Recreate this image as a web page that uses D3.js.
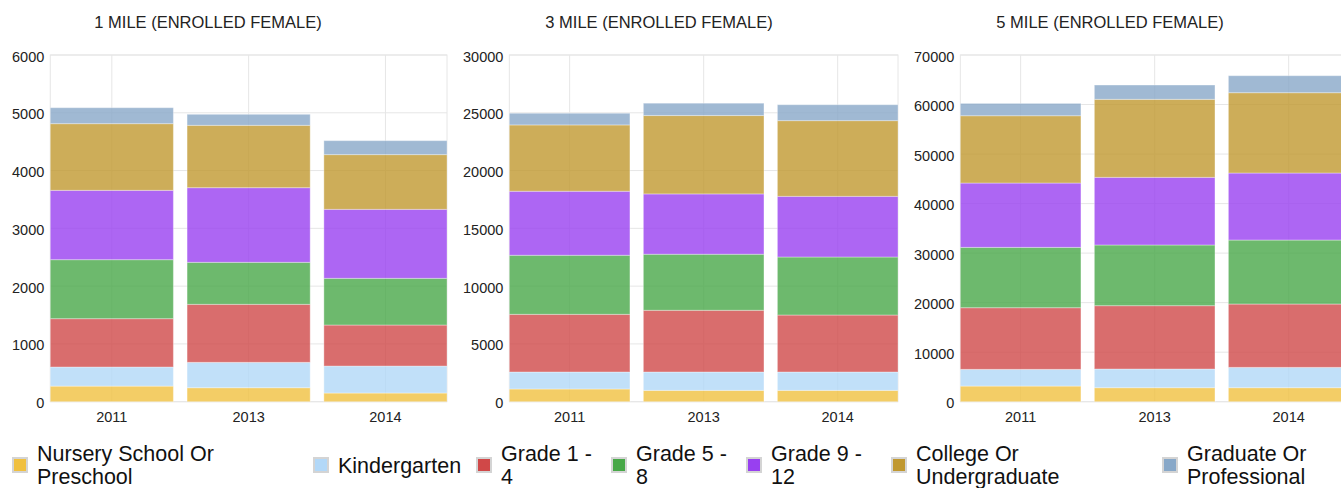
<!DOCTYPE html>
<html>
<head>
<meta charset="utf-8">
<script src="https://cdn.jsdelivr.net/npm/d3@7"></script>
<style>
  body { margin: 0; overflow: hidden; background: #fff; }
  svg { font-family: "Liberation Sans", Arial, sans-serif; }
</style>
</head>
<body>
<svg id="chart" width="1360" height="488"></svg>
<script>
// years on the x axis
const years = ["2011", "2013", "2014"];

// enrollment levels (stack order, bottom to top)
const levels = [
  "Nursery School Or Preschool",
  "Kindergarten",
  "Grade 1 - 4",
  "Grade 5 - 8",
  "Grade 9 - 12",
  "College Or Undergraduate",
  "Graduate Or Professional"
];

// legend labels, already wrapped like the original
const legendLines = [
  ["Nursery School Or", "Preschool"],
  ["Kindergarten"],
  ["Grade 1 -", "4"],
  ["Grade 5 -", "8"],
  ["Grade 9 -", "12"],
  ["College Or", "Undergraduate"],
  ["Graduate Or", "Professional"]
];

const colors = ["#f0c040", "#b2d8f8", "#d04848", "#48a848", "#9840f0", "#c09830", "#88a8c8"];

// values per level: [2011, 2013, 2014]
const oneMile = [
  [270, 242, 150],
  [330, 439, 467],
  [837, 1004, 710],
  [1021, 727, 808],
  [1200, 1292, 1194],
  [1154, 1079, 947],
  [276, 191, 242]
];

const threeMile = [
  [1100, 980, 980],
  [1470, 1590, 1590],
  [4990, 5340, 4930],
  [5110, 4850, 5020],
  [5540, 5220, 5250],
  [5740, 6780, 6550],
  [1010, 1070, 1380]
];

const fiveMile = [
  [3160, 2830, 2830],
  [3370, 3770, 4100],
  [12450, 12790, 12790],
  [12180, 12250, 12920],
  [12990, 13660, 13530],
  [13590, 15750, 16220],
  [2490, 2890, 3430]
];

const panels = [
  { title: "1 MILE (ENROLLED FEMALE)", values: oneMile },
  { title: "3 MILE (ENROLLED FEMALE)", values: threeMile },
  { title: "5 MILE (ENROLLED FEMALE)", values: fiveMile }
];

let svg = d3.select("#chart");

let panelW = 451,
    plotTop = 55,
    plotBottom = 401.7,
    rightPad = 4;

let grid = "#e6e6e6";

panels.forEach((p, pi) => {
  let x0 = pi * panelW;
  let g = svg.append("g").attr("transform", `translate(${x0},0)`);

  // rows for d3.stack
  let rows = years.map((yr, i) => {
    let r = { year: yr };
    levels.forEach((l, li) => { r[l] = p.values[li][i]; });
    return r;
  });
  let series = d3.stack().keys(levels)(rows);
  let maxV = d3.max(series[series.length - 1], d => d[1]);

  let y = d3.scaleLinear().domain([0, maxV]).nice(6).range([plotBottom, plotTop]);
  let ticks = y.ticks(6);

  // measure the widest tick label to get the left margin
  let probe = g.append("text").style("font-size", "14.5px")
    .text(String(d3.max(ticks)));
  let labelW = probe.node().getComputedTextLength();
  probe.remove();
  let left = 12 + labelW + 6;

  let x = d3.scaleBand().domain(years)
    .range([left, panelW - rightPad])
    .paddingInner(0.1).paddingOuter(0);

  // grid
  g.append("g").selectAll("line")
    .data(ticks).enter().append("line")
      .attr("x1", left).attr("x2", panelW - rightPad)
      .attr("y1", d => y(d)).attr("y2", d => y(d))
      .attr("stroke", grid);
  g.append("g").selectAll("line")
    .data(years).enter().append("line")
      .attr("x1", d => x(d) + x.bandwidth() / 2)
      .attr("x2", d => x(d) + x.bandwidth() / 2)
      .attr("y1", plotTop).attr("y2", plotBottom)
      .attr("stroke", grid);
  g.append("rect")
    .attr("x", left).attr("y", plotTop)
    .attr("width", panelW - rightPad - left).attr("height", plotBottom - plotTop)
    .attr("fill", "none").attr("stroke", grid);

  // bars
  g.append("g").selectAll("g")
    .data(series).enter().append("g")
      .attr("fill", (d, i) => colors[i])
    .selectAll("rect")
    .data(d => d).enter().append("rect")
      .attr("x", d => x(d.data.year))
      .attr("width", x.bandwidth())
      .attr("y", d => y(d[1]))
      .attr("height", d => y(d[0]) - y(d[1]))
      .attr("fill-opacity", 0.8)
      .attr("stroke", "#fff")
      .attr("stroke-opacity", 0.35)
      .attr("stroke-width", 1);

  // y labels
  g.append("g").selectAll("text")
    .data(ticks).enter().append("text")
      .attr("x", left - 6)
      .attr("y", d => y(d))
      .attr("dy", "0.45em")
      .attr("text-anchor", "end")
      .style("font-size", "14.5px")
      .attr("fill", "#222")
      .text(d => d);

  // x labels
  g.append("g").selectAll("text")
    .data(years).enter().append("text")
      .attr("x", d => x(d) + x.bandwidth() / 2)
      .attr("y", plotBottom + 20)
      .attr("text-anchor", "middle")
      .style("font-size", "14.5px")
      .attr("fill", "#222")
      .text(d => d);

  // title
  g.append("text")
    .attr("x", 208).attr("y", 28)
    .attr("text-anchor", "middle")
    .style("font-size", "16.5px")
    .attr("fill", "#222")
    .text(p.title);
});

// legend
let legendX = [11, 312, 475, 610, 745, 890, 1161];
let legend = svg.append("g").selectAll("g")
  .data(levels).enter().append("g")
    .attr("transform", (d, i) => `translate(${legendX[i]},0)`);

legend.append("rect")
  .attr("x", 2).attr("y", 458)
  .attr("width", 14).attr("height", 14)
  .attr("fill", (d, i) => colors[i])
  .attr("stroke", "#d4d4d4").attr("stroke-width", 2);

legend.append("text")
  .style("font-size", "21.5px")
  .attr("fill", "#111")
  .each(function (d, i) {
    let lines = legendLines[i];
    let y0 = lines.length > 1 ? 461 : 473;
    lines.forEach((ln, k) => {
      d3.select(this).append("tspan")
        .attr("x", 26).attr("y", y0 + k * 23)
        .text(ln);
    });
  });
</script>
</body>
</html>
